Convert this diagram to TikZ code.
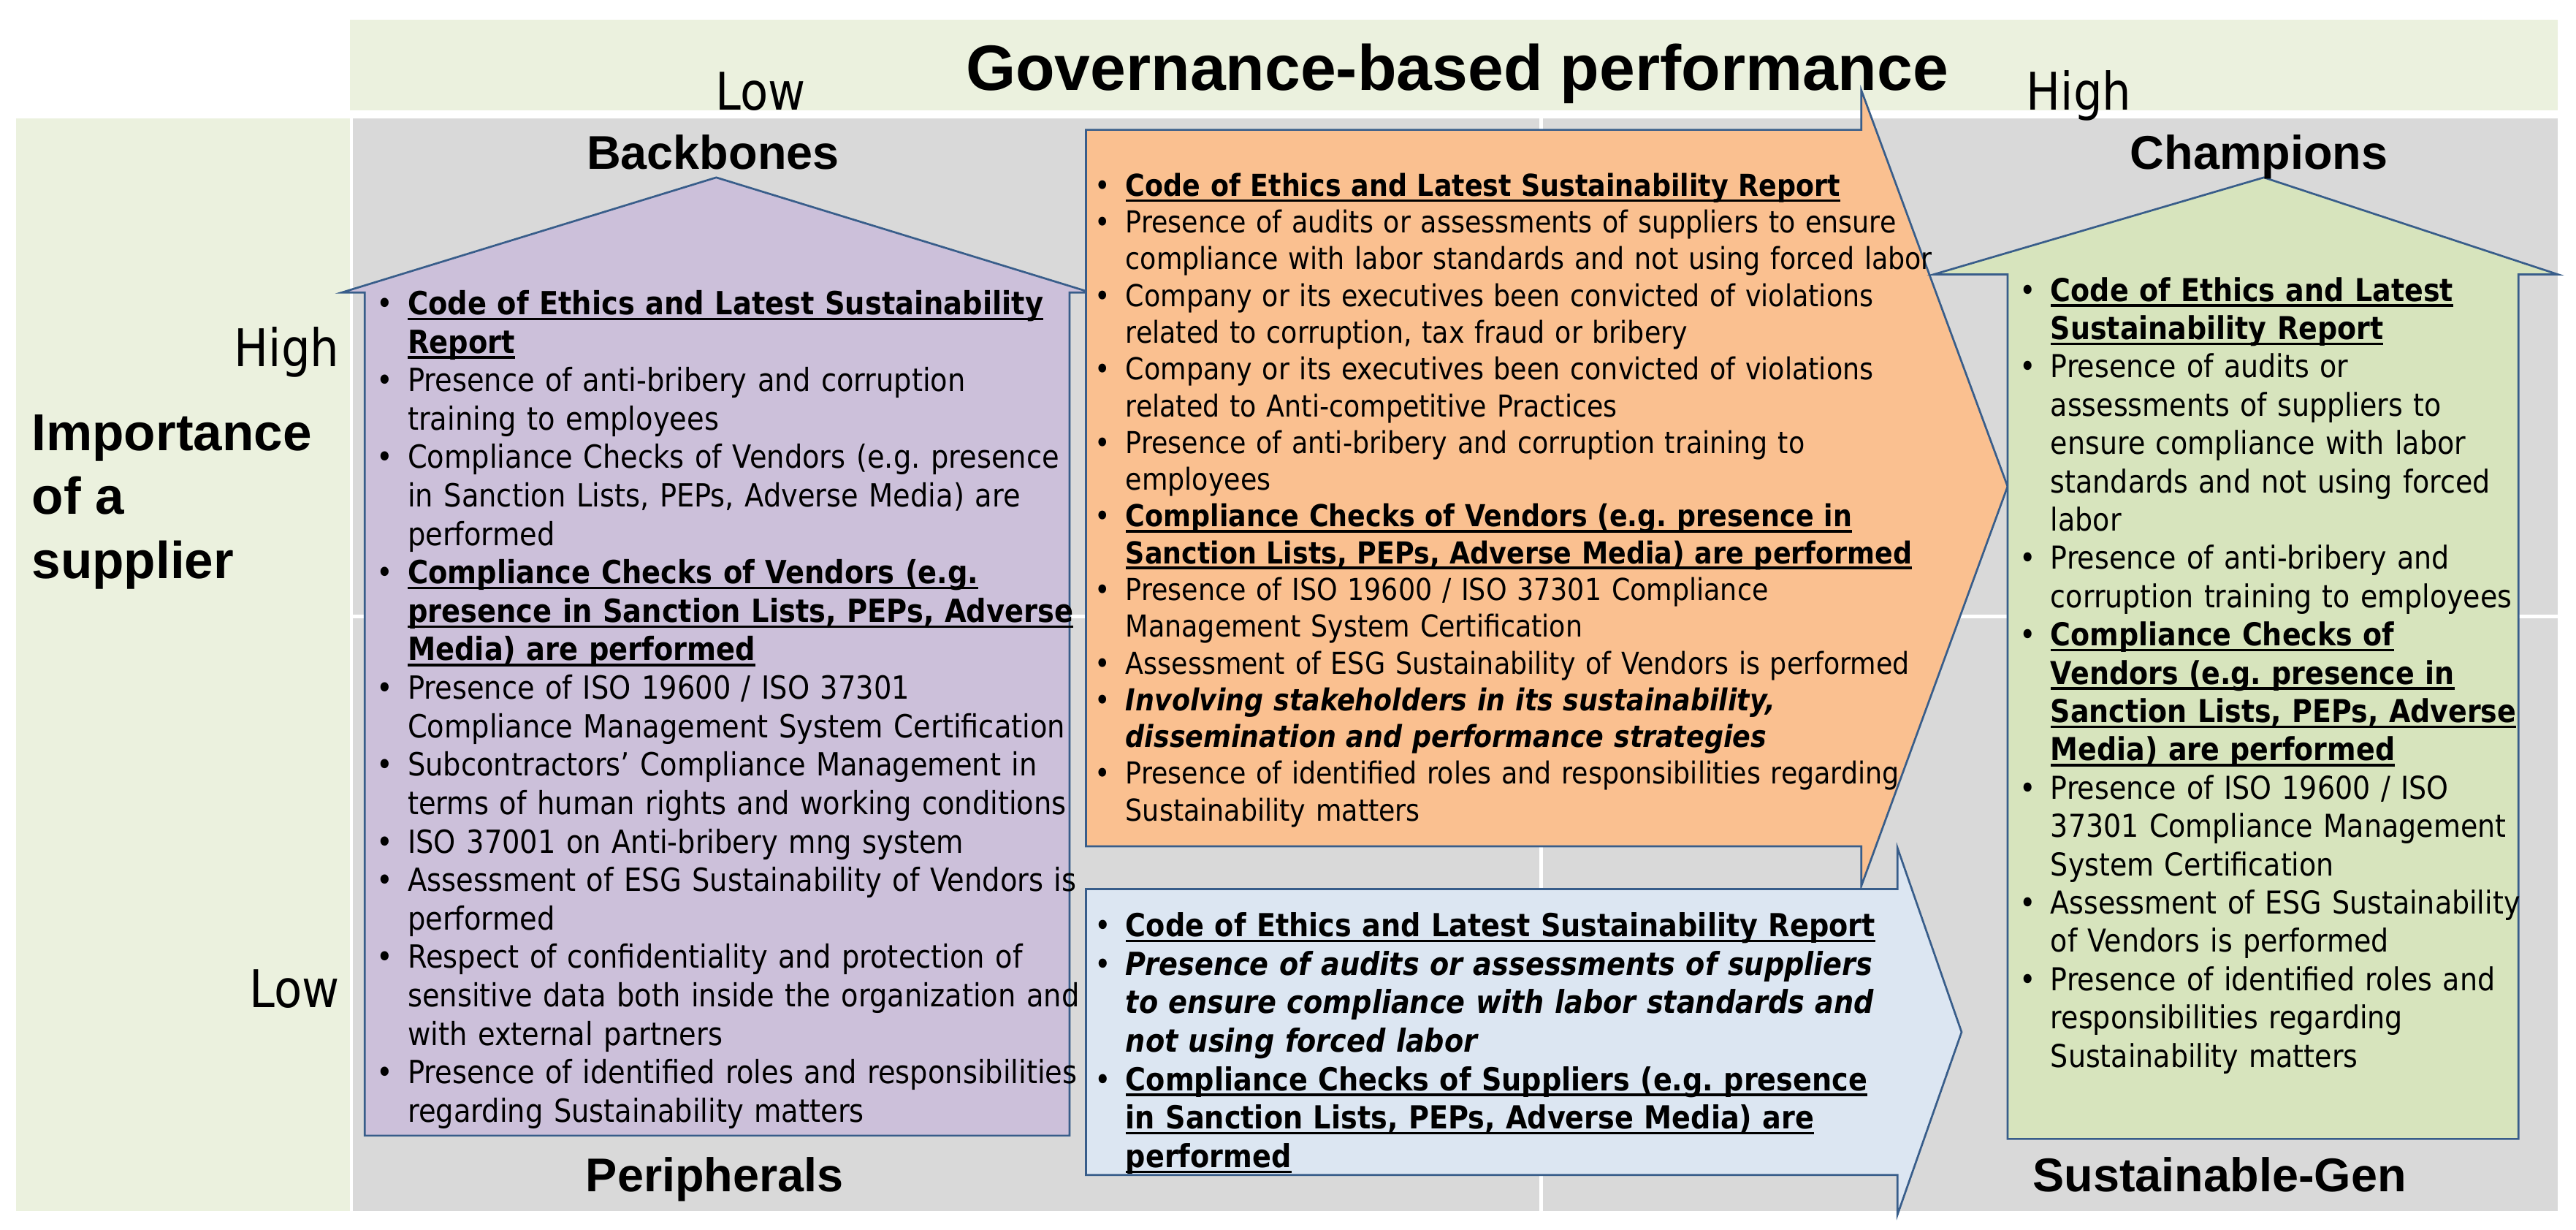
\documentclass[tikz,border=0pt]{standalone}
\usepackage{fontspec}
\setmainfont{DejaVu Sans}[FakeStretch=0.88]
\newfontfamily\headfont{Liberation Sans}
\usepackage{tikz}
\frenchspacing

\definecolor{bandgreen}{HTML}{EBF1DE}
\definecolor{gridgray}{HTML}{D9D9D9}
\definecolor{lilac}{HTML}{CCC0DA}
\definecolor{peach}{HTML}{FAC090}
\definecolor{skyblue}{HTML}{DCE6F2}
\definecolor{olivegreen}{HTML}{D7E4BD}
\definecolor{edgeblue}{HTML}{385D8A}

\newlength{\bind}
\setlength{\bind}{9.4pt}
\newcommand{\bitem}{\par\hangindent=\bind\hangafter=1\noindent\makebox[\bind][l]{\textbullet}}
\newcommand{\uln}[1]{\setbox0\hbox{#1}\rlap{\rule[-1.7pt]{\wd0}{0.75pt}}\box0}
\newcommand{\ulb}[1]{{\bfseries\uln{#1}}}
\newcommand{\bit}[1]{{\bfseries\itshape #1}}

\tikzset{
  shapeline/.style={draw=edgeblue, line width=0.6pt, line join=miter},
  head/.style={font=\headfont\bfseries\fontsize{14.4}{16}\selectfont, inner sep=0pt, anchor=base},
  lowhigh/.style={font=\fontsize{15.8}{18}\selectfont, inner sep=0pt},
  bullets/.style={anchor=base west, inner sep=0pt, text width=#1, align=left}
}

\begin{document}
\begin{tikzpicture}[x=0.5pt,y=-0.5pt]
    \useasboundingbox (0,0) rectangle (1568,748);
    \fill[bandgreen] (213,12) rectangle (1557,67);
    \fill[bandgreen] (10,72) rectangle (213,737);
    \fill[gridgray] (215,72) rectangle (937,374);
    \fill[gridgray] (939,72) rectangle (1557,374);
    \fill[gridgray] (215,376) rectangle (937,737);
    \fill[gridgray] (939,376) rectangle (1557,737);

    \filldraw[shapeline, fill=lilac] (222,691) -- (222,178) -- (208,178) -- (436,108) -- (664,178) -- (651,178) -- (651,691) -- cycle;
    \filldraw[shapeline, fill=peach] (661,79) -- (1133,79) -- (1133,55) -- (1222,296) -- (1133,539) -- (1133,515) -- (661,515) -- cycle;
    \filldraw[shapeline, fill=skyblue] (661,541) -- (1155,541) -- (1155,516) -- (1194,628) -- (1155,739) -- (1155,715) -- (661,715) -- cycle;
    \filldraw[shapeline, fill=olivegreen] (1222,693) -- (1222,167) -- (1177,167) -- (1378,108) -- (1557,167) -- (1533,167) -- (1533,693) -- cycle;

    \node[font=\headfont\bfseries\fontsize{19.5}{22}\selectfont, inner sep=0pt, anchor=base] (title) at (887,55) {Governance-based performance};
    \node[lowhigh, anchor=base] (lowx) at (463,67) {Low};
    \node[lowhigh, anchor=base west] (highx) at (1233,67) {High};
    \node[lowhigh, anchor=base east] (highy) at (207,223) {High};
    \node[lowhigh, anchor=base east] (lowy) at (207,613) {Low};
    \node[font=\headfont\bfseries\fontsize{15.8}{19.5}\selectfont, inner sep=0pt, anchor=base west, align=left] (importance) at (19,352) {Importance\\of a\\supplier};

    \node[head] (backbones) at (434,103) {Backbones};
    \node[head] (champions) at (1375,103) {Champions};
    \node[head] (peripherals) at (435,725) {Peripherals};
    \node[head] (sustgen) at (1351,725) {Sustainable-Gen};

    \node[bullets=260pt, font=\fontsize{9.7}{11.7}\selectfont] (backtext) at (229,168) {%
      \bitem\ulb{Code of Ethics and Latest Sustainability}\newline\ulb{Report}
      \bitem Presence of anti-bribery and corruption\newline\kern2pt training to employees
      \bitem Compliance Checks of Vendors (e.g. presence\newline in Sanction Lists, PEPs, Adverse Media) are\newline performed
      \bitem\ulb{Compliance Checks of Vendors (e.g.}\newline\ulb{presence in Sanction Lists, PEPs, Adverse}\newline\ulb{Media) are performed}
      \bitem Presence of ISO 19600 / ISO 37301\newline\kern2pt Compliance Management System Certification
      \bitem Subcontractors’ Compliance Management in\newline terms of human rights and working conditions
      \bitem ISO 37001 on Anti-bribery mng system
      \bitem Assessment of ESG Sustainability of Vendors is\newline performed
      \bitem Respect of confidentiality and protection of\newline sensitive data both inside the organization and\newline with external partners
      \bitem Presence of identified roles and responsibilities\newline regarding Sustainability matters\par};

    \node[bullets=300pt, font=\fontsize{9.2}{11.18}\selectfont] (champtext) at (666,97) {%
      \bitem\ulb{Code of Ethics and Latest Sustainability Report}
      \bitem Presence of audits or assessments of suppliers to ensure\newline compliance with labor standards and not using forced labor
      \bitem Company or its executives been convicted of violations\newline related to corruption, tax fraud or bribery
      \bitem Company or its executives been convicted of violations\newline related to Anti-competitive Practices
      \bitem Presence of anti-bribery and corruption training to\newline employees
      \bitem\ulb{Compliance Checks of Vendors (e.g. presence in}\newline\ulb{Sanction Lists, PEPs, Adverse Media) are performed}
      \bitem Presence of ISO 19600 / ISO 37301 Compliance\newline Management System Certification
      \bitem Assessment of ESG Sustainability of Vendors is performed
      \bitem\bit{Involving stakeholders in its sustainability,}\newline\bit{dissemination and performance strategies}
      \bitem Presence of identified roles and responsibilities regarding\newline Sustainability matters\par};

    \node[bullets=300pt, font=\fontsize{9.65}{11.7}\selectfont] (periptext) at (666,546.5) {%
      \bitem\ulb{Code of Ethics and Latest Sustainability Report}
      \bitem\bit{Presence of audits or assessments of suppliers}\newline\bit{to ensure compliance with labor standards and}\newline\bit{not using forced labor}
      \bitem\ulb{Compliance Checks of Suppliers (e.g. presence}\newline\ulb{in Sanction Lists, PEPs, Adverse Media) are}\newline\ulb{performed}\par};

    \node[bullets=200pt, font=\fontsize{9.6}{11.65}\selectfont] (greentext) at (1229,160) {%
      \bitem\ulb{Code of Ethics and Latest}\newline\ulb{Sustainability Report}
      \bitem Presence of audits or\newline assessments of suppliers to\newline ensure compliance with labor\newline standards and not using forced\newline labor
      \bitem Presence of anti-bribery and\newline corruption training to employees
      \bitem\ulb{Compliance Checks of}\newline\ulb{Vendors (e.g. presence in}\newline\ulb{Sanction Lists, PEPs, Adverse}\newline\ulb{Media) are performed}
      \bitem Presence of ISO 19600 / ISO\newline 37301 Compliance Management\newline System Certification
      \bitem Assessment of ESG Sustainability\newline of Vendors is performed
      \bitem Presence of identified roles and\newline responsibilities regarding\newline Sustainability matters\par};
\end{tikzpicture}
\end{document}
